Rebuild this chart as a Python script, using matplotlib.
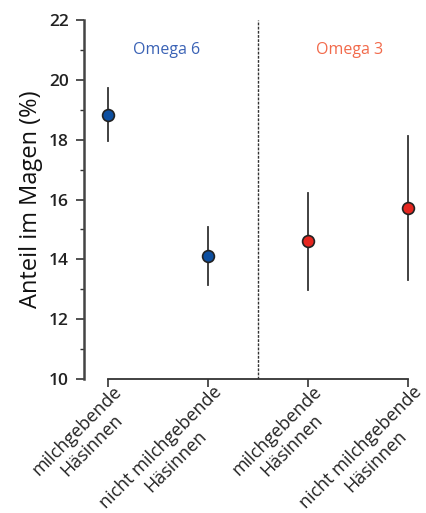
import matplotlib
matplotlib.use("Agg")
import matplotlib.pyplot as plt
import matplotlib.transforms as mtransforms

# data
categories = ["milchgebende\nHäsinnen", "nicht milchgebende\nHäsinnen",
              "milchgebende\nHäsinnen", "nicht milchgebende\nHäsinnen"]
means = [18.82, 14.10, 14.60, 15.71]
upper = [19.73, 15.08, 16.21, 18.12]
lower = [17.95, 13.14, 12.97, 13.30]
groups = ["Omega 6", "Omega 3"]
group_colors = ["#3a62b5", "#f26a4b"]
marker_colors = ["#0d4fa0", "#0d4fa0", "#e5261f", "#e5261f"]

plt.rcParams['font.family'] = ['Open Sans', 'DejaVu Sans']

fig = plt.figure(figsize=(4.26, 5.13), dpi=100)
ax = fig.add_axes([0.197, 0.261, 0.784, 0.700])

xs = list(range(len(means)))
for x, m, lo, hi, c in zip(xs, means, lower, upper, marker_colors):
    ax.plot([x, x], [lo, hi], color='#333333', linewidth=1.3, zorder=2)
    ax.plot(x, m, 'o', markersize=8.5, markerfacecolor=c,
            markeredgecolor='#222222', markeredgewidth=1.2, zorder=3)

# separator between the two groups
ax.axvline(1.5, color='#333333', linestyle=(0, (2, 1)), linewidth=1.0)

ax.set_xlim(-0.24, 3.1)
ax.set_ylim(10, 22)

ax.text(0.59, 21.0, groups[0], color=group_colors[0], ha='center', va='center', fontsize=11.5)
ax.text(2.42, 21.0, groups[1], color=group_colors[1], ha='center', va='center', fontsize=11.5)

# spines
for s in ['top', 'right']:
    ax.spines[s].set_visible(False)
ax.spines['left'].set_linewidth(1.8)
ax.spines['left'].set_color('#444444')
ax.spines['bottom'].set_linewidth(1.3)
ax.spines['bottom'].set_color('#333333')
ax.spines['bottom'].set_bounds(0, 3)

ax.set_yticks(range(10, 23, 2))
ax.set_yticks(range(11, 23, 2), minor=True)
ax.tick_params(axis='y', which='major', length=6, width=1.2, colors='#333333',
               labelsize=12.5, labelcolor='#222222', pad=5)
ax.tick_params(axis='y', which='minor', length=3, width=1.0, colors='#333333')
for lab in ax.get_yticklabels():
    lab.set_fontweight('semibold')

ax.set_xticks(xs)
ax.set_xticklabels(categories, rotation=45, ha='right', rotation_mode='anchor',
                   multialignment='center', fontsize=13, linespacing=1.15)
ax.tick_params(axis='x', length=6, width=1.2, colors='#333333', labelcolor='#222222', pad=1)
offset = mtransforms.ScaledTranslation(0.05, 0.06, fig.dpi_scale_trans)
for lab in ax.get_xticklabels():
    lab.set_transform(lab.get_transform() + offset)

ax.set_ylabel("Anteil im Magen (%)", fontsize=17, color='#111111', labelpad=4)

fig.savefig("out.png", dpi=100)
